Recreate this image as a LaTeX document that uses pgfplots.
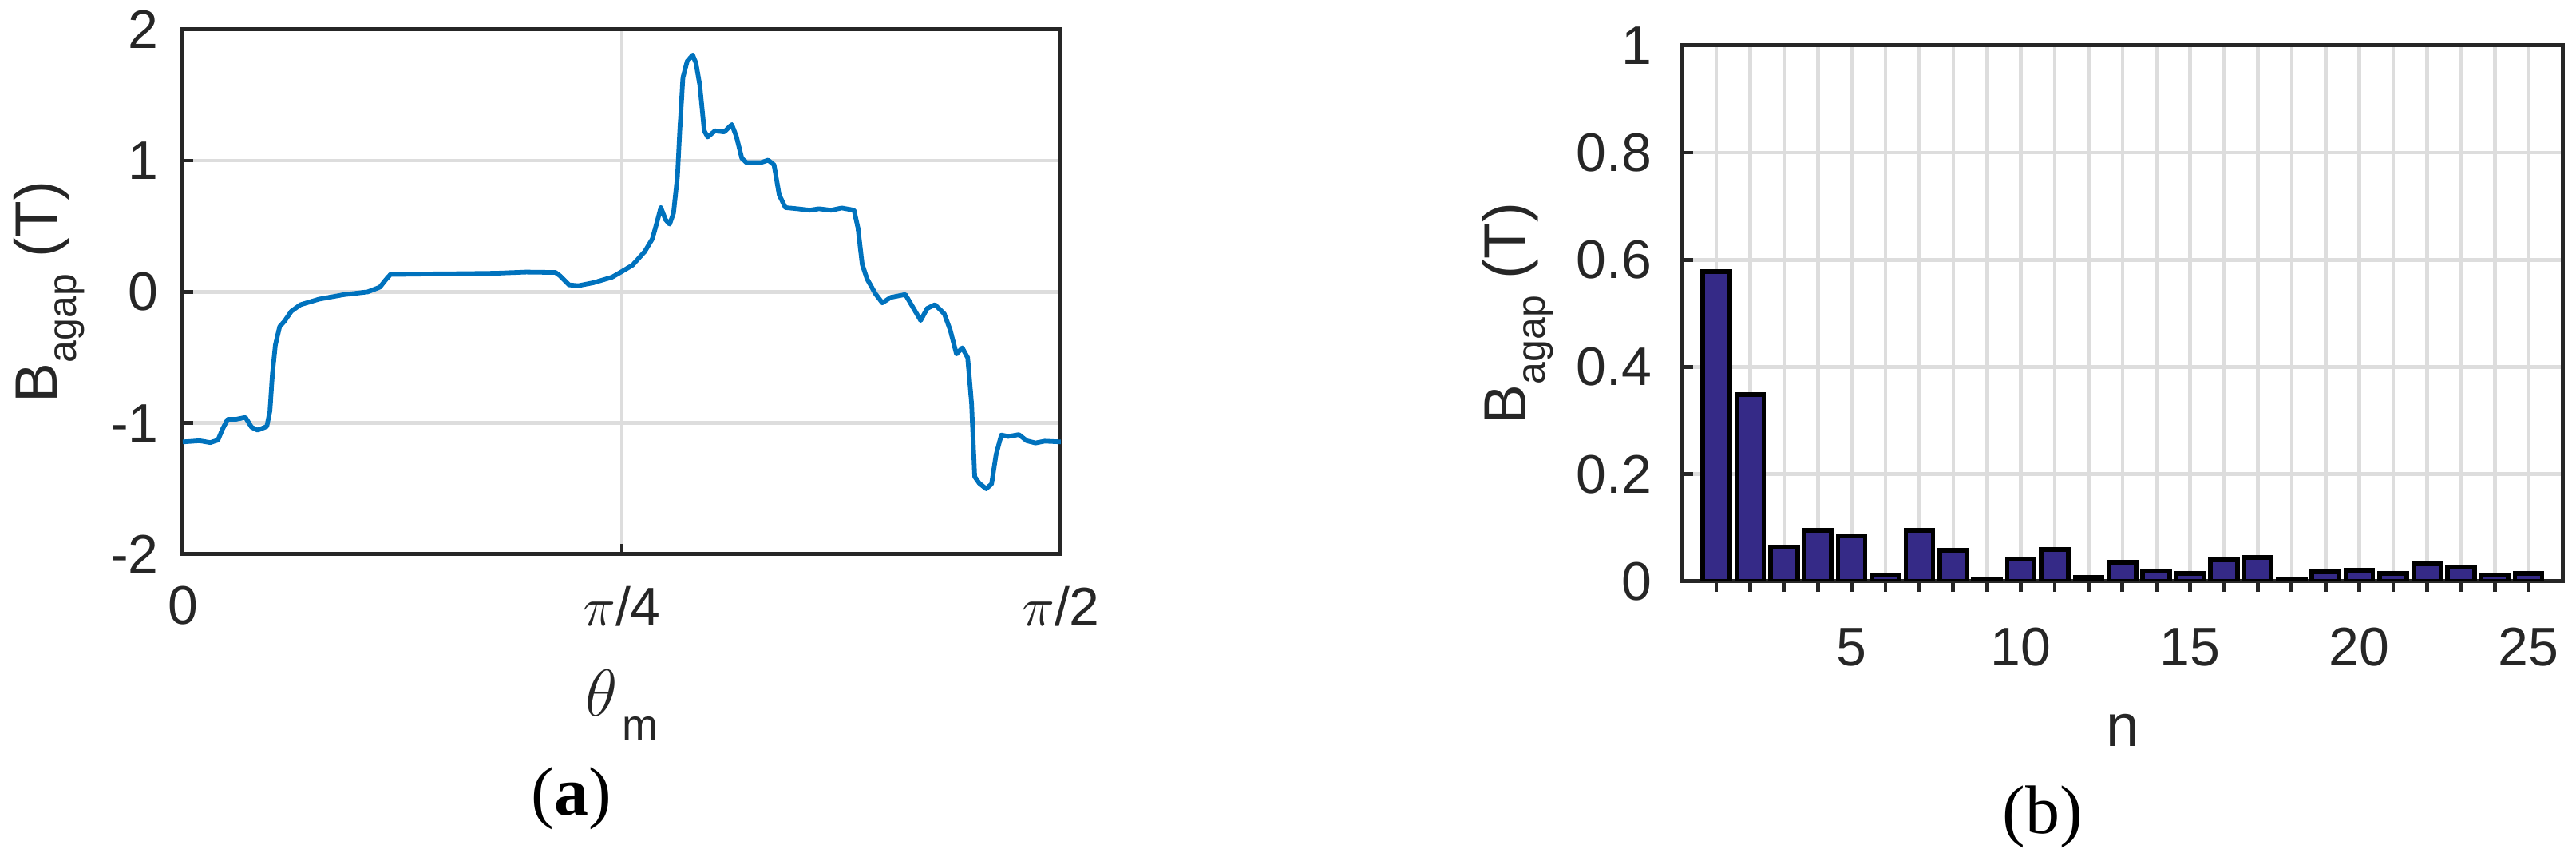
\documentclass[border=0pt]{standalone}
\usepackage{fontspec}
\setmainfont{Liberation Sans}
\newfontfamily\capfont{Liberation Serif}
\usepackage{pgfplots}
\pgfplotsset{compat=1.18}

\definecolor{mlblue}{RGB}{0,114,189}
\definecolor{parula}{RGB}{53,42,135}
\definecolor{axdark}{RGB}{38,38,38}
\definecolor{gridgray}{RGB}{221,221,221}

\pgfplotsset{
  mstyle/.style={
    scale only axis,
    anchor=south west,
    axis line style={axdark, line width=1.25pt},
    tick style={axdark, line width=1.2pt},
    tick align=inside,
    tick pos=left,
    major tick length=3.3pt,
    grid style={gridgray, line width=1.15pt},
    xmajorgrids, ymajorgrids,
    ticklabel style={font=\fontsize{17}{17}\selectfont, text=axdark},
    label style={font=\fontsize{18.7}{19}\selectfont, text=axdark, inner sep=0pt},
  }
}

\begin{document}
\begin{tikzpicture}
\path[use as bounding box] (0,0) rectangle (806.75pt,269.5pt);

% (a) air-gap flux density over one pole
\begin{axis}[mstyle,
    at={(57.25pt,96pt)}, width=275pt, height=164.3pt,
    xmin=0, xmax=90, ymin=-2, ymax=2,
    xtick={0,45,90}, xticklabels={0,{$\pi$/4},{$\pi$/2}},
    ytick={-2,-1,0,1,2}, yticklabels={-2,-1,0,1,2},
    xticklabel style={yshift=-6.6pt},
    yticklabel style={xshift=-4.1pt},
    xlabel={\fontsize{19.5}{20}\selectfont$\theta$\hspace{1.5pt}\raisebox{-7.5pt}{\fontsize{13.5}{14}\selectfont m}},
    xlabel style={at={(axis description cs:0.5,0)}, anchor=north, yshift=-36pt},
    ylabel={B\raisebox{-6pt}{\fontsize{12.5}{13}\selectfont agap} (T)},
    ylabel style={at={(axis description cs:-0.1936,0.5)}, anchor=north},
]
\addplot[mlblue, line width=1.45pt, line join=round] coordinates {
(0,-1.144) (1.72,-1.135) (2.82,-1.149) (3.6,-1.13) (4.07,-1.046) (4.6,-0.971)
(5.48,-0.971) (6.42,-0.957) (7.05,-1.032) (7.67,-1.054) (8.61,-1.026) (8.93,-0.907)
(9.18,-0.628) (9.49,-0.404) (9.93,-0.265) (10.43,-0.223) (11.12,-0.148) (12.06,-0.098)
(13.94,-0.056) (16.44,-0.022) (18.95,0.0) (20.2,0.036) (20.8,0.092) (21.3,0.134)
(22.7,0.134) (25.8,0.137) (28.97,0.139) (32.1,0.142) (35.2,0.151) (38.2,0.148)
(38.7,0.12) (39.6,0.053) (40.55,0.047) (42.1,0.07) (44.0,0.112) (45,0.155)
(46.1,0.204) (47.35,0.307) (48.13,0.404) (48.6,0.53) (49.0,0.642) (49.48,0.55)
(49.9,0.516) (50.3,0.6) (50.7,0.879) (50.95,1.241) (51.26,1.632) (51.7,1.757)
(52.26,1.805) (52.6,1.743) (52.99,1.576) (53.45,1.227) (53.8,1.18) (54.55,1.227)
(55.5,1.219) (56.27,1.275) (56.74,1.185) (57.3,1.018) (57.78,0.985) (59.25,0.985)
(60.0,1.004) (60.6,0.968) (61.13,0.739) (61.76,0.642) (63.0,0.633) (64.26,0.622)
(65.2,0.633) (66.45,0.622) (67.55,0.639) (68.8,0.622) (69.2,0.488) (69.64,0.209)
(70.14,0.098) (70.99,-0.014) (71.7,-0.084) (72.56,-0.042) (74.06,-0.02) (74.9,-0.126)
(75.63,-0.218) (76.3,-0.126) (77.1,-0.098) (78.05,-0.167) (78.67,-0.293) (79.3,-0.474)
(79.9,-0.427) (80.45,-0.502) (80.85,-0.851) (81.17,-1.409) (81.64,-1.459) (82.35,-1.501)
(82.9,-1.464) (83.36,-1.241) (83.9,-1.091) (84.6,-1.102) (85.7,-1.088) (86.5,-1.135)
(87.4,-1.152) (88.35,-1.138) (90,-1.144)
};
\end{axis}

% (b) harmonic spectrum
\begin{axis}[mstyle,
    at={(526.9pt,87.5pt)}, width=275.6pt, height=167.8pt,
    ybar,
    xmin=0, xmax=26, ymin=0, ymax=1,
    xtick={1,...,25},
    xticklabels={,,,,5,,,,,10,,,,,15,,,,,20,,,,,25},
    ytick={0,0.2,0.4,0.6,0.8,1}, yticklabels={0,0.2,0.4,0.6,0.8,1},
    xticklabel style={yshift=-7.8pt},
    yticklabel style={xshift=-6.1pt},
    xlabel={n},
    xlabel style={at={(axis description cs:0.5,0)}, anchor=north, yshift=-41.25pt},
    ylabel={B\raisebox{-6pt}{\fontsize{12.5}{13}\selectfont agap} (T)},
    ylabel style={at={(axis description cs:-0.2275,0.5)}, anchor=north},
]
\addplot[ybar, bar width=0.8, fill=parula, draw=black, line width=1.4pt] coordinates {
(1,0.578) (2,0.349) (3,0.065) (4,0.095) (5,0.085) (6,0.012) (7,0.095) (8,0.058)
(9,0.004) (10,0.042) (11,0.060) (12,0.008) (13,0.036) (14,0.020) (15,0.015)
(16,0.040) (17,0.045) (18,0.005) (19,0.018) (20,0.021) (21,0.015) (22,0.033)
(23,0.027) (24,0.012) (25,0.015)
};
\end{axis}

\node[font=\capfont\fontsize{21.5}{22}\selectfont, anchor=north, inner sep=0pt] at (179pt,29.5pt) {(\textbf{a})};
\node[font=\capfont\fontsize{21.5}{22}\selectfont, anchor=north, inner sep=0pt] at (639.75pt,23.75pt) {(b)};
\end{tikzpicture}
\end{document}
